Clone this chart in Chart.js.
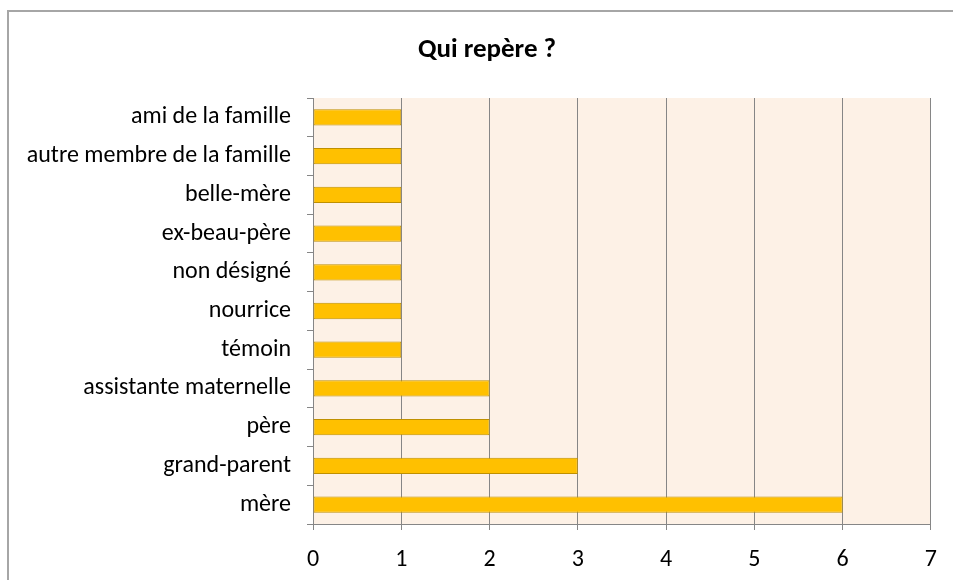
<!DOCTYPE html>
<html><head><meta charset="utf-8">
<script src="https://cdn.jsdelivr.net/npm/chart.js@4"></script>
<style>html,body{margin:0;padding:0;background:#fff}#w{width:953px;height:580px}</style>
</head><body><div id="w"><canvas id="c"></canvas></div>
<script>
const categories = ["ami de la famille","autre membre de la famille","belle-mère","ex-beau-père","non désigné","nourrice","témoin","assistante maternelle","père","grand-parent","mère"];
const values = [1,1,1,1,1,1,1,2,2,3,6];
const xTicks = [0,1,2,3,4,5,6,7];
const titleText = "Qui repère ?";
const FONT = "Carlito, Lato, 'Liberation Sans', sans-serif";

const bgPlugin = {
  id:'bg',
  beforeDraw(chart){
    const {ctx, chartArea:a} = chart;
    ctx.save();
    ctx.fillStyle='#fff'; ctx.fillRect(0,0,chart.width,chart.height);
    ctx.fillStyle='#FDF1E6';
    ctx.fillRect(a.left,a.top,a.right-a.left,a.bottom-a.top);
    ctx.strokeStyle='#A6A6A6'; ctx.lineWidth=2;
    ctx.strokeRect(8,11,1000,700);
    ctx.restore();
  }
};

new Chart(document.getElementById('c'),{
  type:'bar',
  data:{labels:categories,datasets:[{data:values,backgroundColor:'#FFC000',borderColor:'#BF9000',borderWidth:1,borderSkipped:false,categoryPercentage:1,barPercentage:0.42}]},
  options:{
    indexAxis:'y',responsive:true,maintainAspectRatio:false,animation:false,
    layout:{padding:{left:21,right:0,top:0,bottom:0}},
    plugins:{legend:{display:false},tooltip:{enabled:false},
      title:{display:true,text:titleText,color:'#000',font:{family:FONT,size:27,weight:'bold'},padding:{top:34,bottom:31.6}}},
    scales:{
      x:{min:0,max:7,afterBuildTicks(s){s.ticks=xTicks.map(v=>({value:v}));},
        grid:{color:'#868686',tickLength:6,lineWidth:1},border:{color:'#868686'},
        ticks:{color:'#000',font:{family:FONT,size:24},padding:16},
        afterFit(s){s.height=56;}},
      y:{grid:{drawOnChartArea:false,color:'#868686',tickLength:6,offset:true},border:{color:'#868686'},
        ticks:{color:'#000',font:{family:FONT,size:24},padding:16},
        afterFit(s){s.width=292;}},
      yRight:{type:'category',position:'right',labels:categories,display:true,
        grid:{display:false},border:{display:false},ticks:{display:false},
        afterFit(s){s.width=20;}}
    }
  },
  plugins:[bgPlugin]
});
</script></body></html>
